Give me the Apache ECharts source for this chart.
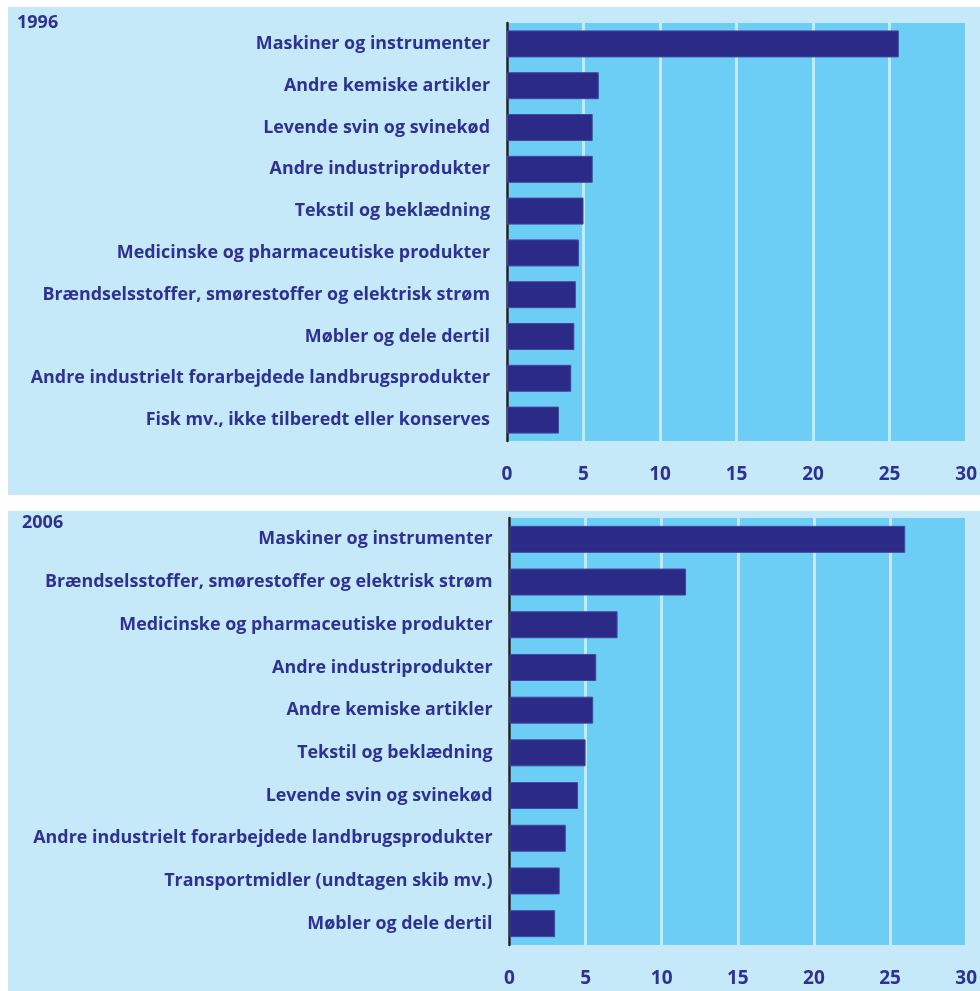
<!DOCTYPE html>
<html>
<head>
<meta charset="utf-8">
<script src="https://cdn.jsdelivr.net/npm/echarts@6/dist/echarts.min.js"></script>
<style>
	html, body { margin: 0; padding: 0; background: #ffffff; }
	#chart { width: 980px; height: 991px; }
</style>
</head>
<body>
<div id="chart"></div>
<script>
// data (percent of exports)
const categories1996 = [
	'Maskiner og instrumenter',
	'Andre kemiske artikler',
	'Levende svin og svinekød',
	'Andre industriprodukter',
	'Tekstil og beklædning',
	'Medicinske og pharmaceutiske produkter',
	'Brændselsstoffer, smørestoffer og elektrisk strøm',
	'Møbler og dele dertil',
	'Andre industrielt forarbejdede landbrugsprodukter',
	'Fisk mv., ikke tilberedt eller konserves'
];
const values1996 = [25.6, 6.0, 5.6, 5.6, 5.0, 4.7, 4.5, 4.4, 4.2, 3.4];

const categories2006 = [
	'Maskiner og instrumenter',
	'Brændselsstoffer, smørestoffer og elektrisk strøm',
	'Medicinske og pharmaceutiske produkter',
	'Andre industriprodukter',
	'Andre kemiske artikler',
	'Tekstil og beklædning',
	'Levende svin og svinekød',
	'Andre industrielt forarbejdede landbrugsprodukter',
	'Transportmidler (undtagen skib mv.)',
	'Møbler og dele dertil'
];
const values2006 = [26.0, 11.6, 7.1, 5.7, 5.5, 5.0, 4.5, 3.7, 3.3, 3.0];

const panelTitles = ['1996', '2006'];
const xTicks = [0, 5, 10, 15, 20, 25, 30];

const navy = '#2e3192';
const barColor = '#2b2a86';
const panelBg = '#c6e9f9';
const plotBg = '#6dcef5';

const chart = echarts.init(document.getElementById('chart'));

const grids = [
	{ left: 507, top: 23, width: 460, height: 418 },
	{ left: 509.5, top: 518, width: 457, height: 427 }
];
const cats = [categories1996, categories2006];
const vals = [values1996, values2006];

const option = {
	animation: false,
	textStyle: { fontFamily: 'Open Sans' },
	graphic: [
		{ type: 'rect', z: -10, shape: { x: 8, y: 7, width: 972, height: 488 }, style: { fill: panelBg } },
		{ type: 'rect', z: -10, shape: { x: 8, y: 511, width: 972, height: 480 }, style: { fill: panelBg } },
		{ type: 'text', left: 17, top: 14, style: { text: panelTitles[0], fill: navy, font: 'bold 18px "Open Sans"' } },
		{ type: 'text', left: 22, top: 514, style: { text: panelTitles[1], fill: navy, font: 'bold 18px "Open Sans"' } }
	],
	grid: grids.map(g => Object.assign({
		show: true,
		backgroundColor: plotBg,
		borderWidth: 0,
		containLabel: false
	}, g)),
	xAxis: [0, 1].map(i => ({
		type: 'value',
		gridIndex: i,
		min: 0,
		max: 30,
		interval: 5,
		axisLine: { show: false },
		axisTick: { show: false },
		splitLine: { show: true, lineStyle: { color: panelBg, width: 3 } },
		axisLabel: {
			color: navy,
			fontSize: 19,
			fontWeight: 'bold',
			margin: 24,
			formatter: v => xTicks.includes(v) ? String(v) : ''
		}
	})),
	yAxis: [0, 1].map(i => ({
		type: 'category',
		gridIndex: i,
		inverse: true,
		data: cats[i],
		axisTick: { show: false },
		axisLine: { show: true, lineStyle: { color: '#231f20', width: 2.5 } },
		axisLabel: {
			color: navy,
			fontSize: 17.9,
			fontWeight: 'bold',
			margin: 17,
			padding: [2, 0, 0, 0]
		}
	})),
	series: [0, 1].map(i => ({
		type: 'bar',
		xAxisIndex: i,
		yAxisIndex: i,
		data: vals[i],
		barWidth: 27,
		itemStyle: { color: barColor, borderColor: '#4646a0', borderWidth: 1 }
	}))
};

chart.setOption(option);
</script>
</body>
</html>
